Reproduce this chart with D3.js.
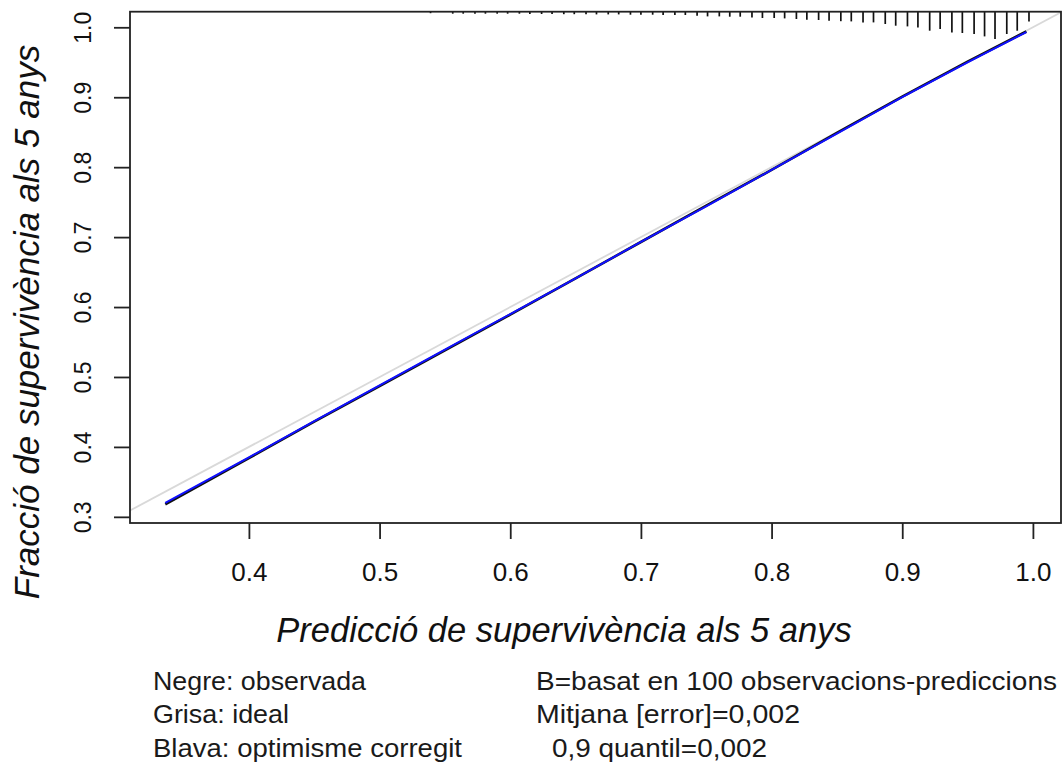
<!DOCTYPE html>
<html>
<head>
<meta charset="utf-8">
<script src="https://cdn.jsdelivr.net/npm/d3@7"></script>
<style>
  body { margin: 0; background: #fff; }
  svg { display: block; }
</style>
</head>
<body>
<script>
// calibration curve: predicted survival vs observed fraction
var predicted = [0.336, 0.40, 0.45, 0.50, 0.55, 0.60, 0.65, 0.70, 0.75, 0.80, 0.85, 0.90, 0.95, 0.995];
var apparent  = [0.318, 0.384, 0.436, 0.487, 0.538, 0.589, 0.641, 0.693, 0.745, 0.796, 0.849, 0.901, 0.951, 0.994];
var corrected = [0.320, 0.385, 0.437, 0.488, 0.539, 0.590, 0.641, 0.693, 0.744, 0.796, 0.848, 0.900, 0.950, 0.993];

// distribution of predictions (spikes on top)
var rugX = [0.539, 0.556, 0.564, 0.573, 0.581, 0.590, 0.598, 0.607, 0.615, 0.624, 0.632,
            0.641, 0.649, 0.658, 0.666, 0.675, 0.683, 0.692, 0.700, 0.709, 0.717, 0.726,
            0.734, 0.743, 0.751, 0.760, 0.768, 0.776, 0.785, 0.793, 0.802, 0.810, 0.819,
            0.827, 0.836, 0.844, 0.853, 0.861, 0.870, 0.878, 0.887, 0.895, 0.904, 0.912,
            0.921, 0.929, 0.938, 0.946, 0.955, 0.963, 0.971, 0.980, 0.988, 0.997];
var rugFreq = [1.5, 2, 2, 2, 2, 2, 2, 2, 2.3, 2.3, 2.3,
               2.5, 2.5, 2.5, 2.7, 2.7, 2.7, 3, 3, 3, 3.3, 3.3,
               3.3, 4, 4.7, 4.7, 5, 5, 5.7, 6.3, 6.3, 6.7, 7.3,
               8, 8.3, 9, 9.5, 9.7, 10.7, 10.7, 12.3, 14, 14.7, 15.7,
               19, 17.3, 20.7, 21.3, 22.3, 24.7, 27.3, 22.3, 19, 9.7];

var xTicks = [0.4, 0.5, 0.6, 0.7, 0.8, 0.9, 1.0];
var yTicks = [0.3, 0.4, 0.5, 0.6, 0.7, 0.8, 0.9, 1.0];

var xTitle = "Predicció de supervivència als 5 anys";
var yTitle = "Fracció de supervivència als 5 anys";
var notesLeft = ["Negre: observada", "Grisa: ideal", "Blava: optimisme corregit"];
var notesRight = ["B=basat en 100 observacions-prediccions", "Mitjana [error]=0,002", "0,9 quantil=0,002"];

var W = 1062, H = 765;
var box = {left: 130, right: 1061, top: 11.7, bottom: 523};

var svg = d3.select("body").append("svg")
    .attr("width", W)
    .attr("height", H);

var x = d3.scaleLinear().domain([0.309, 1.0215]).range([box.left, box.right]);
var y = d3.scaleLinear().domain([0.2912, 1.0223]).range([box.bottom, box.top]);

svg.append("clipPath").attr("id", "plotclip")
  .append("rect")
    .attr("x", box.left).attr("y", box.top)
    .attr("width", box.right - box.left).attr("height", box.bottom - box.top);

var plot = svg.append("g").attr("clip-path", "url(#plotclip)");

// ideal line y = x
plot.append("line")
    .attr("x1", x(0.2)).attr("y1", y(0.2))
    .attr("x2", x(1.1)).attr("y2", y(1.1))
    .attr("stroke", "#d9d9d9")
    .attr("stroke-width", 1.8);

var line = d3.line()
    .x(function(d) { return x(d[0]); })
    .y(function(d) { return y(d[1]); });

// observed (black) then corrected (blue)
plot.append("path")
    .attr("d", line(d3.zip(predicted, apparent)))
    .attr("fill", "none")
    .attr("stroke", "#111")
    .attr("stroke-width", 2.6);

plot.append("path")
    .attr("d", line(d3.zip(predicted, corrected)))
    .attr("fill", "none")
    .attr("stroke", "#1010ff")
    .attr("stroke-width", 2);

// spikes hanging from the top
var spike = d3.scaleLinear().domain([0, d3.max(rugFreq)]).range([0, 27.3]);
svg.append("g").selectAll("line")
    .data(d3.zip(rugX, rugFreq))
  .enter().append("line")
    .attr("x1", function(d) { return x(d[0]); })
    .attr("x2", function(d) { return x(d[0]); })
    .attr("y1", box.top)
    .attr("y2", function(d) { return box.top + spike(d[1]); })
    .attr("stroke", "#111")
    .attr("stroke-width", 1.7);

// box
svg.append("rect")
    .attr("x", box.left).attr("y", box.top)
    .attr("width", box.right - box.left).attr("height", box.bottom - box.top)
    .attr("fill", "none")
    .attr("stroke", "#222")
    .attr("stroke-width", 1.8);

var axisFont = "Liberation Sans, Arial, sans-serif";

// x axis
var xAxis = svg.append("g")
    .attr("transform", "translate(0," + box.bottom + ")")
    .call(d3.axisBottom(x).tickValues(xTicks).tickSizeOuter(0).tickSizeInner(16).tickPadding(24)
      .tickFormat(d3.format(".1f")));
xAxis.select(".domain").remove();
xAxis.selectAll(".tick line").attr("stroke", "#222").attr("stroke-width", 1.8);
xAxis.selectAll(".tick text")
    .attr("font-family", axisFont)
    .attr("font-size", 26)
    .attr("fill", "#111");

// y axis (labels parallel to the axis)
var yAxis = svg.append("g")
    .attr("transform", "translate(" + box.left + ",0)")
    .call(d3.axisLeft(y).tickValues(yTicks).tickSizeOuter(0).tickSizeInner(16)
      .tickFormat(d3.format(".1f")));
yAxis.select(".domain").remove();
yAxis.selectAll(".tick line").attr("stroke", "#222").attr("stroke-width", 1.8);
yAxis.selectAll(".tick text")
    .attr("x", null).attr("dy", null)
    .attr("transform", "translate(-39,0) rotate(-90)")
    .attr("text-anchor", "middle")
    .attr("font-family", axisFont)
    .attr("font-size", 23)
    .attr("fill", "#111");

// axis titles
svg.append("text")
    .attr("x", 564).attr("y", 642)
    .attr("text-anchor", "middle")
    .attr("font-family", axisFont)
    .attr("font-style", "italic")
    .attr("font-size", 34.5)
    .attr("fill", "#111")
    .text(xTitle);

svg.append("text")
    .attr("transform", "translate(39,322) rotate(-90)")
    .attr("text-anchor", "middle")
    .attr("font-family", axisFont)
    .attr("font-style", "italic")
    .attr("font-size", 35)
    .attr("fill", "#111")
    .text(yTitle);

// notes below the chart, stretched to the widths seen in the picture
var noteFont = "Liberation Sans Narrow, Liberation Sans, sans-serif";
var leftWidths = [213, 136, 309];
var rightWidths = [521, 264, 215];
svg.append("g").selectAll("text")
    .data(notesLeft)
  .enter().append("text")
    .attr("x", 153)
    .attr("y", function(d, i) { return 690 + i * 33.3; })
    .attr("textLength", function(d, i) { return leftWidths[i]; })
    .attr("lengthAdjust", "spacingAndGlyphs")
    .attr("font-family", noteFont)
    .attr("font-size", 25.5)
    .attr("fill", "#1a1a1a")
    .text(function(d) { return d; });

svg.append("g").selectAll("text")
    .data(notesRight)
  .enter().append("text")
    .attr("x", function(d, i) { return i === 2 ? 552 : 536; })
    .attr("y", function(d, i) { return 690 + i * 33.3; })
    .attr("textLength", function(d, i) { return rightWidths[i]; })
    .attr("lengthAdjust", "spacingAndGlyphs")
    .attr("font-family", noteFont)
    .attr("font-size", 25.5)
    .attr("fill", "#1a1a1a")
    .text(function(d) { return d; });
</script>
</body>
</html>
